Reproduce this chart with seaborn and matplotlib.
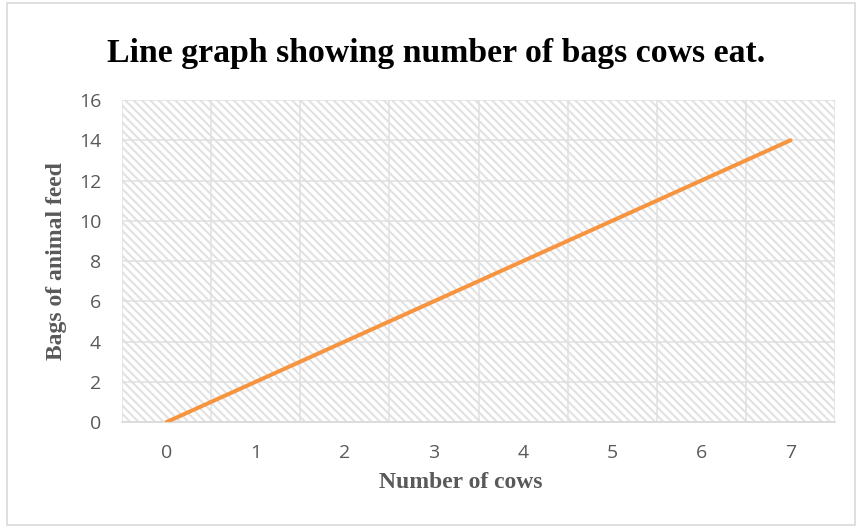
import numpy as np
import pandas as pd
import matplotlib
matplotlib.use("Agg")
import matplotlib.pyplot as plt
import seaborn as sns
from matplotlib.patches import Rectangle

# chart data
cows = [0, 1, 2, 3, 4, 5, 6, 7]
bags = [0, 2, 4, 6, 8, 10, 12, 14]
x_ticks = [0, 1, 2, 3, 4, 5, 6, 7]
y_ticks = [0, 2, 4, 6, 8, 10, 12, 14, 16]

df = pd.DataFrame({"cows": cows, "bags": bags})

sns.set_theme(style="white")
plt.rcParams["hatch.linewidth"] = 1.5
plt.rcParams["hatch.color"] = "#e2e2e2"

fig = plt.figure(figsize=(8.57, 5.27), dpi=100)
ax = fig.add_axes([0.1424, 0.1992, 0.832, 0.611])

# hatched plot background
ax.add_patch(Rectangle((0, 0), 1, 1, transform=ax.transAxes, facecolor="white",
                       edgecolor="#e2e2e2", hatch="\\\\\\\\", linewidth=0, zorder=0))

sns.lineplot(data=df, x="cows", y="bags", ax=ax, color="#F79440", linewidth=2.9,
             zorder=3)

ax.set_xlim(-0.5, 7.5)
ax.set_ylim(0, 16)
ax.set_xticks(x_ticks)
ax.set_yticks(y_ticks)
ax.set_xticks(np.arange(-0.5, 8, 1), minor=True)
ax.grid(False)
ax.grid(True, which="minor", axis="x", color="#e0e0e0", linewidth=1.1, zorder=1)
ax.grid(True, which="major", axis="y", color="#e0e0e0", linewidth=1.1, zorder=1)
ax.set_axisbelow(True)
for s in ["left", "right", "top"]:
    ax.spines[s].set_visible(False)
ax.spines["bottom"].set_color("#d9d9d9")
ax.tick_params(which="both", length=0, labelsize=14, labelcolor="#595959")
ax.tick_params(axis="x", pad=16)
ax.tick_params(axis="y", pad=15)
for lab in ax.get_xticklabels() + ax.get_yticklabels():
    lab.set_family("Open Sans")

ax.set_xlabel("Number of cows", fontsize=17, fontweight="bold", color="#595959",
              family="Liberation Serif")
ax.xaxis.set_label_coords(0.475, -0.156)
ax.set_ylabel("Bags of animal feed", fontsize=17, fontweight="bold", color="#595959",
              family="Liberation Serif")
ax.yaxis.set_label_coords(-0.077, 0.5)

fig.text(0.509, 1 - 62 / 527, "Line graph showing number of bags cows eat.",
         ha="center", va="baseline", fontsize=24.3, fontweight="bold",
         family="Liberation Serif", color="black")

# chart border
fig.add_artist(Rectangle((0.008, 0.004), 0.99, 0.99, transform=fig.transFigure,
                         fill=False, edgecolor="#d9d9d9", linewidth=1.2))

fig.savefig("out.png", dpi=100)
